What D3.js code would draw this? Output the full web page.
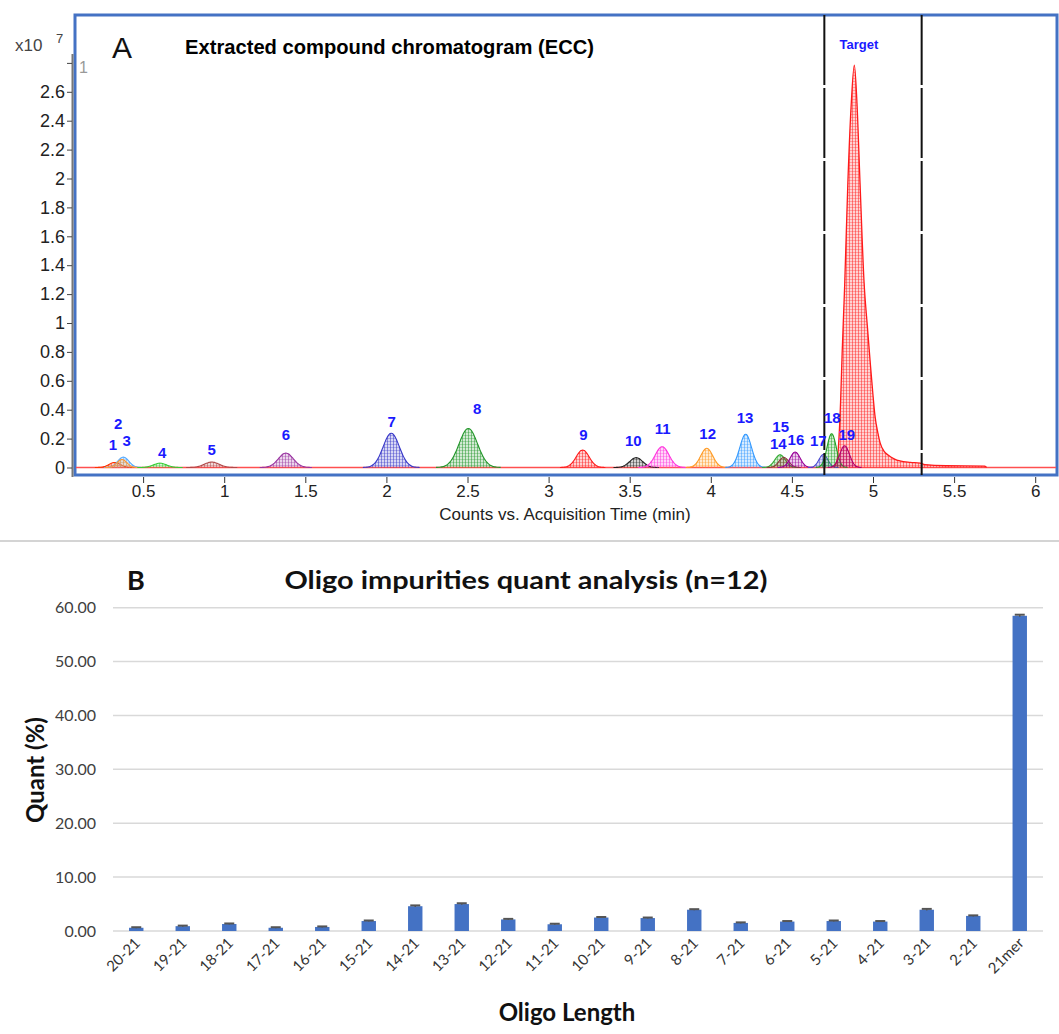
<!DOCTYPE html>
<html><head><meta charset="utf-8">
<script src="https://cdn.jsdelivr.net/npm/d3@7"></script>
<style>body{margin:0;background:#fff} svg{display:block}</style>
</head><body>
<svg id="c" width="1059" height="1034"></svg>
<script>
// ---------- Panel A: extracted compound chromatogram (values in x10^7 counts) ----------
const peakLabels  = ["1","2","3","4","5","6","7","8","9","10","11","12","13","14","15","16","17","18","19"];
const peakTimes   = [0.325,0.378,0.37,0.604,0.923,1.38,2.03,2.505,3.21,3.54,3.70,3.975,4.215,4.427,4.45,4.52,4.694,4.745,4.825];
const peakHeights = [0.035,0.072,0.055,0.03,0.038,0.10,0.237,0.27,0.121,0.068,0.144,0.133,0.23,0.088,0.07,0.107,0.09,0.234,0.15];
const peakWidths  = [0.035,0.034,0.03,0.04,0.045,0.046,0.05,0.057,0.04,0.04,0.042,0.037,0.036,0.032,0.03,0.031,0.027,0.028,0.03];
const peakColors  = ["#ff3300","#55aaff","#ff9933","#33cc33","#b04848","#9933a0","#3838c8","#22962a","#ff1a1a","#222222","#ff33dd","#ff9922","#3399ff","#33aa33","#8b3a3a","#990099","#4b4bd0","#22a022","#b0006e"];
const labelTimes  = [0.314,0.347,0.399,0.618,0.923,1.381,2.033,2.56,3.214,3.522,3.703,3.981,4.211,4.416,4.431,4.525,4.663,4.749,4.838];
const labelValues = [0.156,0.30,0.185,0.10,0.12,0.23,0.32,0.41,0.23,0.183,0.27,0.232,0.347,0.167,0.282,0.19,0.183,0.347,0.225];
const targetLabel = "Target";
const targetLabelPos = [4.913, 2.93];
const targetTimes  = [4.76,4.78,4.79,4.80,4.81,4.825,4.845,4.865,4.885,4.90,4.92,4.945,4.965,4.982,5.0,5.013,5.03,5.044,5.07,5.093,5.13,5.166,5.23,5.29,5.32,5.45,5.69,5.70];
const targetValues = [0,0.06,0.2,0.45,0.8,1.25,1.97,2.5,2.785,2.55,1.97,1.28,0.98,0.74,0.5,0.35,0.24,0.17,0.11,0.086,0.06,0.045,0.035,0.03,0.02,0.012,0.01,0];
const windowTimes = [4.70, 5.30];
const xTicksA = [0.5,1,1.5,2,2.5,3,3.5,4,4.5,5,5.5,6];
const yTicksA = [0,0.2,0.4,0.6,0.8,1,1.2,1.4,1.6,1.8,2,2.2,2.4,2.6,2.8];

// ---------- Panel B: oligo impurities quant analysis ----------
const oligoCategories = ["20-21","19-21","18-21","17-21","16-21","15-21","14-21","13-21","12-21","11-21","10-21","9-21","8-21","7-21","6-21","5-21","4-21","3-21","2-21","21mer"];
const quantValues = [0.6,0.9,1.3,0.6,0.75,1.85,4.6,5.0,2.15,1.25,2.5,2.4,3.95,1.5,1.75,1.85,1.75,3.95,2.8,58.5];
const quantErrors = [0.1,0.1,0.1,0.1,0.1,0.1,0.15,0.15,0.1,0.1,0.1,0.1,0.1,0.1,0.1,0.1,0.1,0.15,0.1,0.2];
const yTicksB = [0,10,20,30,40,50,60];

const svg = d3.select("#c");
const defs = svg.append("defs");
function makePattern(id, c){
  const p = defs.append("pattern").attr("id", id).attr("width", 3).attr("height", 3).attr("patternUnits", "userSpaceOnUse");
  p.append("rect").attr("width", 3).attr("height", 3).attr("fill", c).attr("opacity", 0.2);
  p.append("rect").attr("width", 1).attr("height", 3).attr("fill", c).attr("opacity", 0.5);
  p.append("rect").attr("width", 3).attr("height", 1).attr("fill", c).attr("opacity", 0.3);
}
peakColors.forEach((c,i)=>makePattern("pat"+i, c));
makePattern("patT", "#ff2020");

// ===== Panel A =====
const xA = d3.scaleLinear().domain([0,6]).range([62, 1035.2]);
const yA = d3.scaleLinear().domain([0,2.8]).range([467.5, 62.9]);
const fA = "'Liberation Sans', Arial, sans-serif";
const gA = svg.append("g");

// frame
gA.append("rect").attr("x",75).attr("y",15).attr("width",982).attr("height",460)
  .attr("fill","none").attr("stroke","#4472c4").attr("stroke-width",3);

// y axis
gA.append("line").attr("x1",72.5).attr("x2",72.5).attr("y1",54).attr("y2",477).attr("stroke","#777").attr("stroke-width",2);
const yAx = gA.append("g").attr("transform","translate(72,0)")
  .call(d3.axisLeft(yA).tickValues(yTicksA).tickSize(5).tickFormat(d => d >= 2.8 ? "" : d3.format("~g")(d)));
yAx.select(".domain").remove();
yAx.selectAll("line").attr("stroke","#444");
yAx.selectAll("text").attr("font-family",fA).attr("font-size",18).attr("fill","#222").attr("x",-7);

// x axis
const xAx = gA.append("g").attr("transform","translate(0,477)")
  .call(d3.axisBottom(xA).tickValues(xTicksA).tickSize(6).tickFormat(d3.format("~g")));
xAx.select(".domain").remove();
xAx.selectAll("line").attr("stroke","#333");
xAx.selectAll("text").attr("font-family",fA).attr("font-size",17).attr("fill","#222").attr("y",8);

// texts
gA.append("text").attr("x",15).attr("y",51).attr("font-family",fA).attr("font-size",17).attr("fill","#444").text("x10");
gA.append("text").attr("x",56).attr("y",43).attr("font-family",fA).attr("font-size",13).attr("fill","#444").text("7");
gA.append("text").attr("x",79).attr("y",73).attr("font-family",fA).attr("font-size",16).attr("fill","#999").text("1");
gA.append("text").attr("x",112).attr("y",58).attr("font-family",fA).attr("font-size",30).attr("fill","#111").text("A");
gA.append("text").attr("x",185).attr("y",54).attr("font-family",fA).attr("font-size",21).attr("font-weight","bold")
  .attr("textLength",409).attr("lengthAdjust","spacingAndGlyphs").attr("fill","#000").text("Extracted compound chromatogram (ECC)");
gA.append("text").attr("x",565).attr("y",520).attr("text-anchor","middle").attr("font-family",fA).attr("font-size",17).attr("fill","#222")
  .text("Counts vs. Acquisition Time (min)");

// baseline (target trace)
gA.append("line").attr("x1",76).attr("x2",1056).attr("y1",yA(0)).attr("y2",yA(0)).attr("stroke","#ff5050").attr("stroke-width",1.5);

// target peak
const areaT = d3.area().x((d,i)=>xA(targetTimes[i])).y0(yA(0)).y1((d,i)=>yA(d)).curve(d3.curveMonotoneX);
const lineT = d3.line().x((d,i)=>xA(targetTimes[i])).y((d,i)=>yA(d)).curve(d3.curveMonotoneX);
gA.append("path").datum(targetValues).attr("d",areaT).attr("fill","url(#patT)");
gA.append("path").datum(targetValues).attr("d",lineT).attr("fill","none").attr("stroke","#ff1a1a").attr("stroke-width",1.3);

// small peaks (Gaussian profile from apex time, height, width)
peakTimes.forEach((mu,i)=>{
  const s = peakWidths[i], h = peakHeights[i];
  const pts = d3.range(-3.5, 3.5001, 0.125).map(k => [mu + k*s, h*Math.exp(-0.5*k*k)]);
  const area = d3.area().x(d=>xA(d[0])).y0(yA(0)).y1(d=>yA(d[1])).curve(d3.curveMonotoneX);
  const line = d3.line().x(d=>xA(d[0])).y(d=>yA(d[1])).curve(d3.curveMonotoneX);
  gA.append("path").datum(pts).attr("d",area).attr("fill",`url(#pat${i})`);
  gA.append("path").datum(pts).attr("d",line).attr("fill","none").attr("stroke",peakColors[i]).attr("stroke-width",1.1);
});

// window lines
windowTimes.forEach(t=>{
  gA.append("line").attr("x1",xA(t)).attr("x2",xA(t)).attr("y1",15).attr("y2",475)
    .attr("stroke","#111").attr("stroke-width",2).attr("stroke-dasharray","70,3");
});

// labels
peakLabels.forEach((l,i)=>{
  gA.append("text").attr("x",xA(labelTimes[i])).attr("y",yA(labelValues[i])).attr("dy","0.35em")
    .attr("text-anchor","middle").attr("font-family",fA).attr("font-weight","bold").attr("font-size",15)
    .attr("fill","#1a1aff").text(l);
});
gA.append("text").attr("x",xA(targetLabelPos[0])).attr("y",yA(targetLabelPos[1])).attr("dy","0.35em")
  .attr("text-anchor","middle").attr("font-family",fA).attr("font-weight","bold").attr("font-size",13)
  .attr("fill","#1a1aff").text(targetLabel);

// separator
svg.append("line").attr("x1",0).attr("x2",1059).attr("y1",541).attr("y2",541).attr("stroke","#d4d4d4").attr("stroke-width",2);

// ===== Panel B =====
const fB = "Lato, 'Open Sans', sans-serif";
const xB = d3.scaleBand().domain(oligoCategories).range([113,1043]).paddingInner(0.69).paddingOuter(0.345);
const yB = d3.scaleLinear().domain([0,60]).range([931, 607.7]);
const gB = svg.append("g");

gB.selectAll("line.grid").data(yTicksB).join("line").attr("class","grid")
  .attr("x1",113).attr("x2",1043).attr("y1",d=>yB(d)).attr("y2",d=>yB(d))
  .attr("stroke","#d9d9d9").attr("stroke-width",1.5);

const yBx = gB.append("g").attr("transform","translate(113,0)")
  .call(d3.axisLeft(yB).tickValues(yTicksB).tickSize(0).tickPadding(17).tickFormat(d3.format(".2f")));
yBx.select(".domain").remove();
yBx.selectAll("text").attr("font-family",fB).attr("font-size",16).attr("fill","#404040");

gB.selectAll("rect.bar").data(quantValues).join("rect").attr("class","bar")
  .attr("x",(d,i)=>xB(oligoCategories[i])).attr("width",xB.bandwidth())
  .attr("y",d=>yB(d)).attr("height",d=>yB(0)-yB(d)).attr("fill","#4472c4");

// error bars
quantValues.forEach((v,i)=>{
  const cx = xB(oligoCategories[i]) + xB.bandwidth()/2;
  const e = quantErrors[i];
  gB.append("line").attr("x1",cx).attr("x2",cx).attr("y1",yB(v+e)).attr("y2",yB(v-e)).attr("stroke","#555").attr("stroke-width",1.5);
  gB.append("line").attr("x1",cx-5).attr("x2",cx+5).attr("y1",yB(v+e)).attr("y2",yB(v+e)).attr("stroke","#555").attr("stroke-width",2);
});

// category labels
gB.selectAll("text.cat").data(oligoCategories).join("text").attr("class","cat")
  .attr("transform",d=>`translate(${xB(d)+xB.bandwidth()/2+5},${944}) rotate(-45)`)
  .attr("text-anchor","end").attr("font-family",fB).attr("font-size",15).attr("fill","#333").text(d=>d);

gB.append("text").attr("x",567).attr("y",1021).attr("text-anchor","middle").attr("font-family",fB).attr("font-weight","bold")
  .attr("font-size",24).attr("fill","#111").text("Oligo Length");
gB.append("text").attr("transform","translate(44,770) rotate(-90)").attr("text-anchor","middle").attr("font-family",fB)
  .attr("font-weight","bold").attr("font-size",24).attr("fill","#111").text("Quant (%)");
gB.append("text").attr("x",526).attr("y",589).attr("text-anchor","middle").attr("font-family",fB).attr("font-weight","bold")
  .attr("font-size",24).attr("textLength",483).attr("lengthAdjust","spacingAndGlyphs").attr("fill","#111")
  .text("Oligo impurities quant analysis (n=12)");
gB.append("text").attr("x",127).attr("y",590).attr("font-family",fB).attr("font-weight","bold").attr("font-size",27).attr("fill","#111").text("B");
</script>
</body></html>
